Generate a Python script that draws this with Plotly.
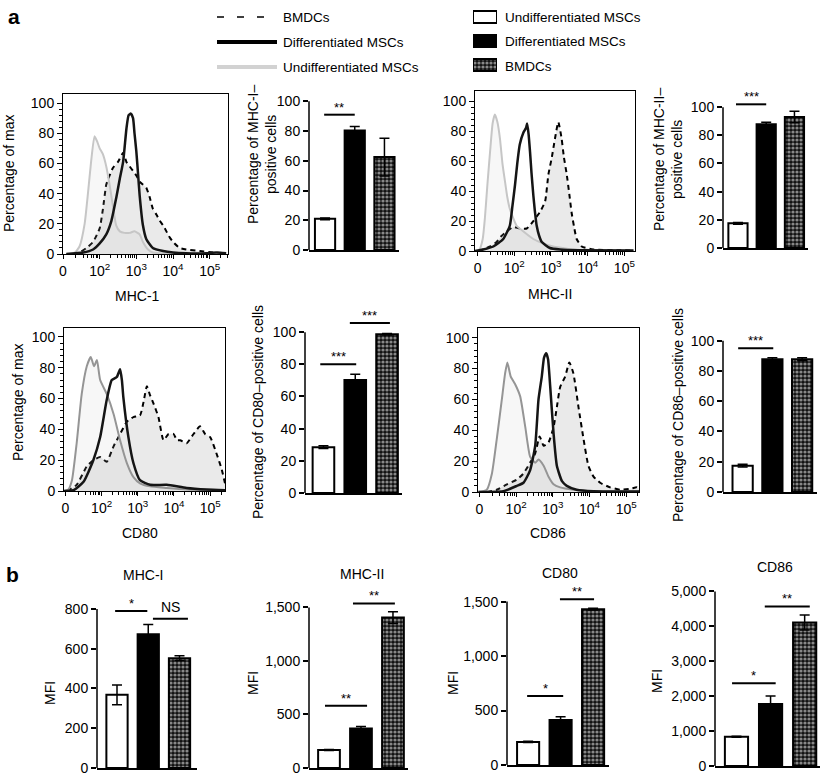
import math
import plotly.graph_objects as go

W, H = 825, 776
FONT = "Liberation Sans, Arial, Helvetica, sans-serif"

# ---------------- data ----------------
groups = ["Undifferentiated MSCs", "Differentiated MSCs", "BMDCs"]

hist_tickvals = [0, 1, 2, 3, 4]
hist_ticktext = ["0", "10<sup>2</sup>", "10<sup>3</sup>", "10<sup>4</sup>", "10<sup>5</sup>"]
hist_ytick = [0, 20, 40, 60, 80, 100]

# MHC-1 histograms (x = display position in decades, 0 = "0", 1 = 10^2 ...)
mhc1_undiff_t = [0.09, 0.32, 0.45, 0.59, 0.68, 0.77, 0.86, 0.94, 1.0, 1.09, 1.18, 1.27, 1.36, 1.45, 1.55, 1.68, 1.82, 1.95, 2.09, 2.18, 2.32, 2.45, 2.82, 4.45]
mhc1_undiff_y = [0, 1, 5, 20, 40, 62, 78, 74, 70, 66, 58, 46, 32, 19, 15, 14, 14, 15, 13, 8, 3, 1, 0.3, 0]
mhc1_diff_t = [0.09, 0.55, 0.82, 1.0, 1.18, 1.32, 1.45, 1.55, 1.64, 1.73, 1.79, 1.85, 1.91, 1.95, 2.0, 2.05, 2.09, 2.18, 2.27, 2.45, 2.73, 3.0, 3.36, 3.91, 4.18, 4.45]
mhc1_diff_y = [0, 1, 3, 7, 13, 22, 37, 50, 61, 83, 92, 93, 90, 80, 68, 52, 39, 19, 10, 4, 2, 1, 0.5, 0.5, 1, 0.5]
mhc1_bmdc_t = [0.27, 0.45, 0.64, 0.82, 1.0, 1.09, 1.18, 1.27, 1.36, 1.5, 1.64, 1.73, 1.82, 1.91, 2.0, 2.09, 2.18, 2.27, 2.36, 2.45, 2.55, 2.64, 2.73, 2.82, 2.91, 3.0, 3.18, 3.36, 3.73, 4.09, 4.45]
mhc1_bmdc_y = [0, 1, 4, 8, 17, 30, 46, 52, 57, 61, 67, 61, 58, 55, 52, 48, 46, 44, 38, 30, 26, 22, 19, 15, 11, 8, 4, 3, 2, 1, 0.5]

# MHC-II histograms
mhc2_undiff_t = [-0.07, 0.05, 0.14, 0.2, 0.27, 0.34, 0.41, 0.47, 0.54, 0.61, 0.68, 0.75, 0.81, 0.88, 1.06, 1.25, 1.52, 1.79, 2.06, 2.34, 2.61, 2.97, 4.25]
mhc2_undiff_y = [0, 1, 8, 22, 45, 66, 85, 91, 86, 75, 58, 46, 36, 28, 17, 13, 8, 5, 3, 2, 1, 0.3, 0]
mhc2_diff_t = [-0.07, 0.15, 0.43, 0.7, 0.88, 0.95, 1.02, 1.08, 1.15, 1.25, 1.32, 1.35, 1.39, 1.43, 1.47, 1.52, 1.56, 1.61, 1.68, 1.75, 1.97, 2.25, 2.79, 4.25]
mhc2_diff_y = [0, 1, 3, 8, 17, 30, 44, 58, 71, 79, 82, 85, 78, 66, 52, 37, 27, 17, 10, 6, 2, 1, 0.5, 0.3]
mhc2_bmdc_t = [0.02, 0.15, 0.34, 0.52, 0.65, 0.79, 0.97, 1.15, 1.34, 1.52, 1.7, 1.84, 1.93, 2.02, 2.11, 2.2, 2.29, 2.35, 2.43, 2.5, 2.56, 2.63, 2.7, 2.84, 3.15, 3.88, 4.25]
mhc2_bmdc_y = [0, 1, 3, 6, 10, 13, 16, 15, 15, 20, 26, 33, 51, 62, 75, 86, 75, 63, 51, 38, 26, 16, 8, 3, 1, 0.5, 0.3]

# CD80 histograms
cd80_undiff_t = [-0.04, 0.08, 0.18, 0.31, 0.45, 0.59, 0.7, 0.79, 0.87, 0.96, 1.14, 1.33, 1.51, 1.7, 1.88, 2.06, 2.34, 2.8, 3.35, 3.91, 4.42]
cd80_undiff_y = [0, 1, 7, 31, 63, 81, 87, 81, 85, 72, 63, 50, 33, 18, 9, 5, 3, 2, 1, 0.5, 0.3]
cd80_diff_t = [-0.04, 0.22, 0.5, 0.77, 0.96, 1.14, 1.28, 1.42, 1.51, 1.56, 1.6, 1.74, 1.88, 2.06, 2.34, 2.8, 3.35, 3.91, 4.42]
cd80_diff_y = [0, 0.5, 6, 20, 35, 59, 72, 74, 79, 72, 61, 35, 18, 7, 4, 4, 2, 1, 0.5]
cd80_bmdc_t = [0.04, 0.31, 0.59, 0.77, 0.96, 1.14, 1.33, 1.51, 1.7, 1.88, 2.06, 2.16, 2.25, 2.34, 2.43, 2.57, 2.71, 2.85, 2.99, 3.08, 3.17, 3.35, 3.54, 3.72, 3.86, 4.0, 4.18, 4.32, 4.41]
cd80_bmdc_y = [0, 4, 16, 20, 22, 19, 29, 37, 45, 48, 49, 58, 68, 62, 57, 48, 33, 37, 37, 33, 33, 31, 37, 42, 37, 35, 24, 14, 5]

# CD86 histograms
cd86_undiff_t = [-0.03, 0.2, 0.34, 0.47, 0.61, 0.7, 0.76, 0.85, 0.97, 1.11, 1.25, 1.38, 1.52, 1.61, 1.75, 1.88, 2.02, 2.2, 2.56, 3.11, 4.35]
cd86_undiff_y = [0, 1.5, 12, 34, 60, 77, 84, 75, 70, 62, 42, 23, 19, 21, 17, 10, 5, 3, 1.5, 0.5, 0.3]
cd86_diff_t = [-0.03, 0.65, 1.02, 1.2, 1.38, 1.52, 1.61, 1.7, 1.76, 1.82, 1.87, 1.93, 2.02, 2.11, 2.25, 2.38, 2.65, 3.11, 4.35]
cd86_diff_y = [0, 0.5, 4, 6, 14, 30, 60, 75, 87, 90, 86, 68, 38, 17, 7, 4, 1.5, 0.5, 0.3]
cd86_bmdc_t = [0.2, 0.47, 0.75, 1.02, 1.2, 1.38, 1.52, 1.64, 1.75, 1.88, 2.02, 2.11, 2.2, 2.34, 2.45, 2.56, 2.7, 2.84, 2.97, 3.11, 3.29, 3.56, 3.84, 4.11, 4.29, 4.35]
cd86_bmdc_y = [0, 1.5, 5, 8, 12, 19, 25, 36, 30, 32, 42, 55, 68, 75, 84, 77, 55, 34, 17, 10, 6, 3, 1.5, 2, 3, 2]

# percentage-positive bars
mhc1_pct = [21, 80.4, 62.5]
mhc1_pct_err = [0.6, 2.7, 12.7]
mhc2_pct = [17.5, 87.8, 93.0]
mhc2_pct_err = [0.6, 1.5, 4.0]
cd80_pct = [28.5, 70.3, 98.7]
cd80_pct_err = [0.8, 3.5, 0.5]
cd86_pct = [17.4, 87.7, 87.7]
cd86_pct_err = [0.9, 1.1, 1.0]

# MFI bars
mhc1_mfi = [368, 672, 552]
mhc1_mfi_err = [50, 49, 12]
mhc2_mfi = [168, 368, 1405]
mhc2_mfi_err = [5, 20, 55]
cd80_mfi = [212, 413, 1430]
cd80_mfi_err = [5, 30, 8]
cd86_mfi = [840, 1775, 4110]
cd86_mfi_err = [15, 230, 215]

# significance brackets: (x0, x1, y, label)
sig_mhc1_pct = [(-0.03, 1.0, 91, "**")]
sig_mhc2_pct = [(-0.07, 1.0, 102, "***")]
sig_cd80_pct = [(-0.1, 1.03, 80, "***"), (0.83, 2.09, 105.6, "***")]
sig_cd86_pct = [(-0.15, 1.03, 95, "***")]
sig_mhc1_mfi = [(-0.06, 0.97, 790, "*"), (1.15, 2.27, 751, "NS")]
sig_mhc2_mfi = [(-0.125, 1.19, 581, "**"), (0.75, 2.06, 1537, "**")]
sig_cd80_mfi = [(-0.03, 1.08, 634, "*"), (0.98, 2.03, 1521, "**")]
sig_cd86_mfi = [(-0.13, 1.15, 2371, "*"), (0.83, 2.15, 4570, "**")]

legend_swatch = [1, 1, 1]

# ---------------- helpers ----------------
def dx(a, b):
    return [a / W, b / W]

def dy(top, bottom):
    return [1 - bottom / H, 1 - top / H]

def px(a):
    return a / W

def py(b):
    return 1 - b / H

fig = go.Figure()
layout = {}
shapes = []
annotations = []
TICKF = dict(size=14)
CHECKER = dict(shape=["", "", "."], fgcolor="white", bgcolor="#111111", size=4, solidity=0.5)

minor_x = [0.35, 0.55, 0.68, 0.77, 0.84, 0.9, 0.95]
for d in range(1, 5):
    for k in range(2, 10):
        minor_x.append(d + math.log10(k))
minor_y = [v for v in range(4, 101, 4) if v % 20 != 0]


def ax_name(n):
    return ("xaxis" if n == 1 else f"xaxis{n}"), ("yaxis" if n == 1 else f"yaxis{n}")


def ref(n):
    return ("x" if n == 1 else f"x{n}"), ("y" if n == 1 else f"y{n}")


def hist_panel(n, xd, yd, xr, yr, undiff, diff, bmdc, ucol):
    xa, ya = ax_name(n)
    xr_, yr_ = ref(n)
    layout[xa] = dict(domain=dx(*xd), range=xr, anchor=yr_, showline=True, mirror=True,
                      linecolor="black", linewidth=1, ticks="outside", ticklen=4, tickwidth=1,
                      tickcolor="black", tickvals=hist_tickvals, ticktext=hist_ticktext,
                      showgrid=False, zeroline=False, tickfont=TICKF,
                      minor=dict(tickvals=[v for v in minor_x if xr[0] <= v <= xr[1]],
                                 ticks="outside", ticklen=2.5, tickwidth=1, tickcolor="black"))
    layout[ya] = dict(domain=dy(*yd), range=yr, anchor=xr_, showline=True, mirror=True,
                      linecolor="black", linewidth=1, ticks="outside", ticklen=5, tickwidth=1,
                      tickcolor="black", tickvals=hist_ytick, showgrid=False, zeroline=False,
                      tickfont=TICKF,
                      minor=dict(tickvals=minor_y, ticks="outside", ticklen=3, tickwidth=1,
                                 tickcolor="black"))
    fig.add_trace(go.Scatter(x=bmdc[0], y=bmdc[1], mode="lines", xaxis=xr_, yaxis=yr_,
                             line=dict(color="black", width=2, dash="5px,4px", shape="spline", smoothing=0.5),
                             fill="tozeroy", fillcolor="rgba(190,190,190,0.33)", showlegend=False,
                             name="BMDCs"))
    fig.add_trace(go.Scatter(x=undiff[0], y=undiff[1], mode="lines", xaxis=xr_, yaxis=yr_,
                             line=dict(color=ucol, width=2, shape="spline", smoothing=0.5),
                             fill="tozeroy", fillcolor="rgba(190,190,190,0.12)", showlegend=False,
                             name="Undifferentiated MSCs"))
    fig.add_trace(go.Scatter(x=diff[0], y=diff[1], mode="lines", xaxis=xr_, yaxis=yr_,
                             line=dict(color="#151515", width=2.5, shape="spline", smoothing=0.5),
                             showlegend=False, name="Differentiated MSCs"))


def bar_panel(n, xd, yd, xr, yr, vals, errs, ytickvals, sigs, tickformat=None):
    xa, ya = ax_name(n)
    xr_, yr_ = ref(n)
    layout[xa] = dict(domain=dx(*xd), range=xr, anchor=yr_, showline=True, linecolor="black",
                      linewidth=1.5, ticks="", showticklabels=False, showgrid=False, zeroline=False)
    yax = dict(domain=dy(*yd), range=yr, anchor=xr_, showline=False, ticks="outside", ticklen=5,
               tickwidth=1.5, tickcolor="black", tickvals=ytickvals, showgrid=False,
               zeroline=False, tickfont=TICKF)
    if tickformat:
        yax["tickformat"] = tickformat
    layout[ya] = yax
    fig.add_trace(go.Bar(x=[0, 1, 2], y=vals, width=0.68, xaxis=xr_, yaxis=yr_,
                         marker=dict(color=["white", "black", "#111111"],
                                     line=dict(color="black", width=2),
                                     pattern=CHECKER),
                         error_y=dict(type="data", array=errs, color="black", thickness=1.5,
                                      width=5),
                         showlegend=False, cliponaxis=False, hovertext=groups))
    shapes.append(dict(type="line", xref=f"{xr_} domain", yref=yr_, x0=0, x1=0, y0=0,
                       y1=ytickvals[-1], line=dict(color="black", width=1.5)))
    for (x0, x1, yv, lab) in sigs:
        shapes.append(dict(type="line", xref=xr_, yref=yr_, x0=x0, x1=x1, y0=yv, y1=yv,
                           line=dict(color="black", width=2)))
        annotations.append(dict(x=(x0 + x1) / 2, y=yv, xref=xr_, yref=yr_, text=lab,
                                showarrow=False, yanchor="bottom",
                                yshift=(2 if lab == "NS" else -2),
                                font=dict(size=14 if lab == "NS" else 13)))


# ---------------- histograms ----------------
hist_panel(1, (63, 228), (94, 254), [0, 4.5], [0, 106],
           (mhc1_undiff_t, mhc1_undiff_y), (mhc1_diff_t, mhc1_diff_y), (mhc1_bmdc_t, mhc1_bmdc_y), "#c6c6c6")
hist_panel(2, (475, 635), (91, 251), [-0.07, 4.29], [0, 106.7],
           (mhc2_undiff_t, mhc2_undiff_y), (mhc2_diff_t, mhc2_diff_y), (mhc2_bmdc_t, mhc2_bmdc_y), "#c6c6c6")
hist_panel(3, (64, 225), (328, 491), [-0.04, 4.41], [0, 105.8],
           (cd80_undiff_t, cd80_undiff_y), (cd80_diff_t, cd80_diff_y), (cd80_bmdc_t, cd80_bmdc_y), "#959595")
hist_panel(4, (478, 639), (328, 492), [-0.04, 4.35], [0, 106.3],
           (cd86_undiff_t, cd86_undiff_y), (cd86_diff_t, cd86_diff_y), (cd86_bmdc_t, cd86_bmdc_y), "#959595")

# ---------------- percentage bars ----------------
pct_ticks = [0, 20, 40, 60, 80, 100]
bar_panel(5, (309, 399), (79, 250), [-0.54, 2.49], [0, 115], mhc1_pct, mhc1_pct_err, pct_ticks, sig_mhc1_pct)
bar_panel(6, (723, 808), (86, 248), [-0.53, 2.48], [0, 115], mhc2_pct, mhc2_pct_err, pct_ticks, sig_mhc2_pct)
bar_panel(7, (305, 402), (308, 493), [-0.58, 2.47], [0, 115], cd80_pct, cd80_pct_err, pct_ticks, sig_cd80_pct)
bar_panel(8, (723, 817), (318, 492), [-0.66, 2.5], [0, 115], cd86_pct, cd86_pct_err, pct_ticks, sig_cd86_pct)

# ---------------- MFI bars ----------------
bar_panel(9, (97, 197), (593, 768), [-0.64, 2.56], [0, 880], mhc1_mfi, mhc1_mfi_err,
          [0, 200, 400, 600, 800], sig_mhc1_mfi, ",d")
bar_panel(10, (309, 408), (586, 768), [-0.625, 2.47], [0, 1700], mhc2_mfi, mhc2_mfi_err,
          [0, 500, 1000, 1500], sig_mhc2_mfi, ",d")
bar_panel(11, (507, 609), (582, 765), [-0.65, 2.49], [0, 1680], cd80_mfi, cd80_mfi_err,
          [0, 500, 1000, 1500], sig_cd80_mfi, ",d")
bar_panel(12, (715, 820), (581, 766), [-0.63, 2.45], [0, 5300], cd86_mfi, cd86_mfi_err,
          [0, 1000, 2000, 3000, 4000, 5000], sig_cd86_mfi, ",d")

# ---------------- bar legend swatches ----------------
layout["xaxis13"] = dict(domain=dx(473, 497), range=[0, 1], anchor="y13", visible=False)
layout["yaxis13"] = dict(domain=dy(5, 77), range=[2.5, -0.5], anchor="x13", visible=False)
fig.add_trace(go.Bar(x=legend_swatch, y=[0, 1, 2], orientation="h", width=0.5,
                     xaxis="x13", yaxis="y13", cliponaxis=False, showlegend=False,
                     marker=dict(color=["white", "black", "#111111"],
                                 line=dict(color="black", width=2),
                                 pattern=CHECKER),
                     hovertext=groups))
for i, lab in enumerate(groups):
    annotations.append(dict(x=px(503), y=py(17 + 24.5 * i), xref="paper", yref="paper",
                            text=lab, showarrow=False, xanchor="left", yanchor="middle",
                            font=dict(size=13.5)))

# ---------------- histogram line legend ----------------
line_legend = [("BMDCs", dict(color="black", width=1.5, dash="7px,13px")),
               ("Differentiated MSCs", dict(color="black", width=4)),
               ("Undifferentiated MSCs", dict(color="#d2d2d2", width=4))]
for i, (lab, ln) in enumerate(line_legend):
    yy = 17 + 25 * i
    shapes.append(dict(type="line", xref="paper", yref="paper", x0=px(217), x1=px(277),
                       y0=py(yy), y1=py(yy), line=ln))
    annotations.append(dict(x=px(281), y=py(yy), xref="paper", yref="paper", text=lab,
                            showarrow=False, xanchor="left", yanchor="middle",
                            font=dict(size=13.5)))

# ---------------- titles and labels ----------------
def label(x, y, text, size=14, angle=0, bold=False):
    annotations.append(dict(x=px(x), y=py(y), xref="paper", yref="paper",
                            text=(f"<b>{text}</b>" if bold else text), showarrow=False,
                            xanchor="center", yanchor="middle", textangle=angle,
                            font=dict(size=size)))

label(14, 16, "a", 21, bold=True)
label(12, 574, "b", 21, bold=True)
label(9, 173, "Percentage of max", angle=-90)
label(18, 402, "Percentage of max", angle=-90)
label(137, 296, "MHC-1")
label(550, 294, "MHC-II")
label(140, 533, "CD80")
label(548, 533, "CD86")
label(262, 155, "Percentage of MHC-I–<br>positive cells", angle=-90)
label(668, 160, "Percentage of MHC-II–<br>positive cells", angle=-90)
label(258, 412, "Percentage of CD80–positive cells", angle=-90)
label(678, 415, "Percentage of CD86–positive cells", angle=-90)
label(143, 575, "MHC-I")
label(362, 574, "MHC-II")
label(560, 573, "CD80")
label(775, 567, "CD86")
label(50, 693, "MFI", angle=-90)
label(253, 683, "MFI", angle=-90)
label(453, 683, "MFI", angle=-90)
label(657, 681, "MFI", angle=-90)

fig.update_layout(**layout)
fig.update_layout(width=W, height=H, margin=dict(l=0, r=0, t=0, b=0, autoexpand=False),
                  paper_bgcolor="white", plot_bgcolor="rgba(0,0,0,0)",
                  font=dict(family=FONT, size=14, color="black"),
                  barmode="overlay", shapes=shapes, annotations=annotations,
                  showlegend=False)

fig.write_html("out.html", config={"displayModeBar": False},
               post_script="document.body.style.margin='0px';document.body.style.padding='0px';")
